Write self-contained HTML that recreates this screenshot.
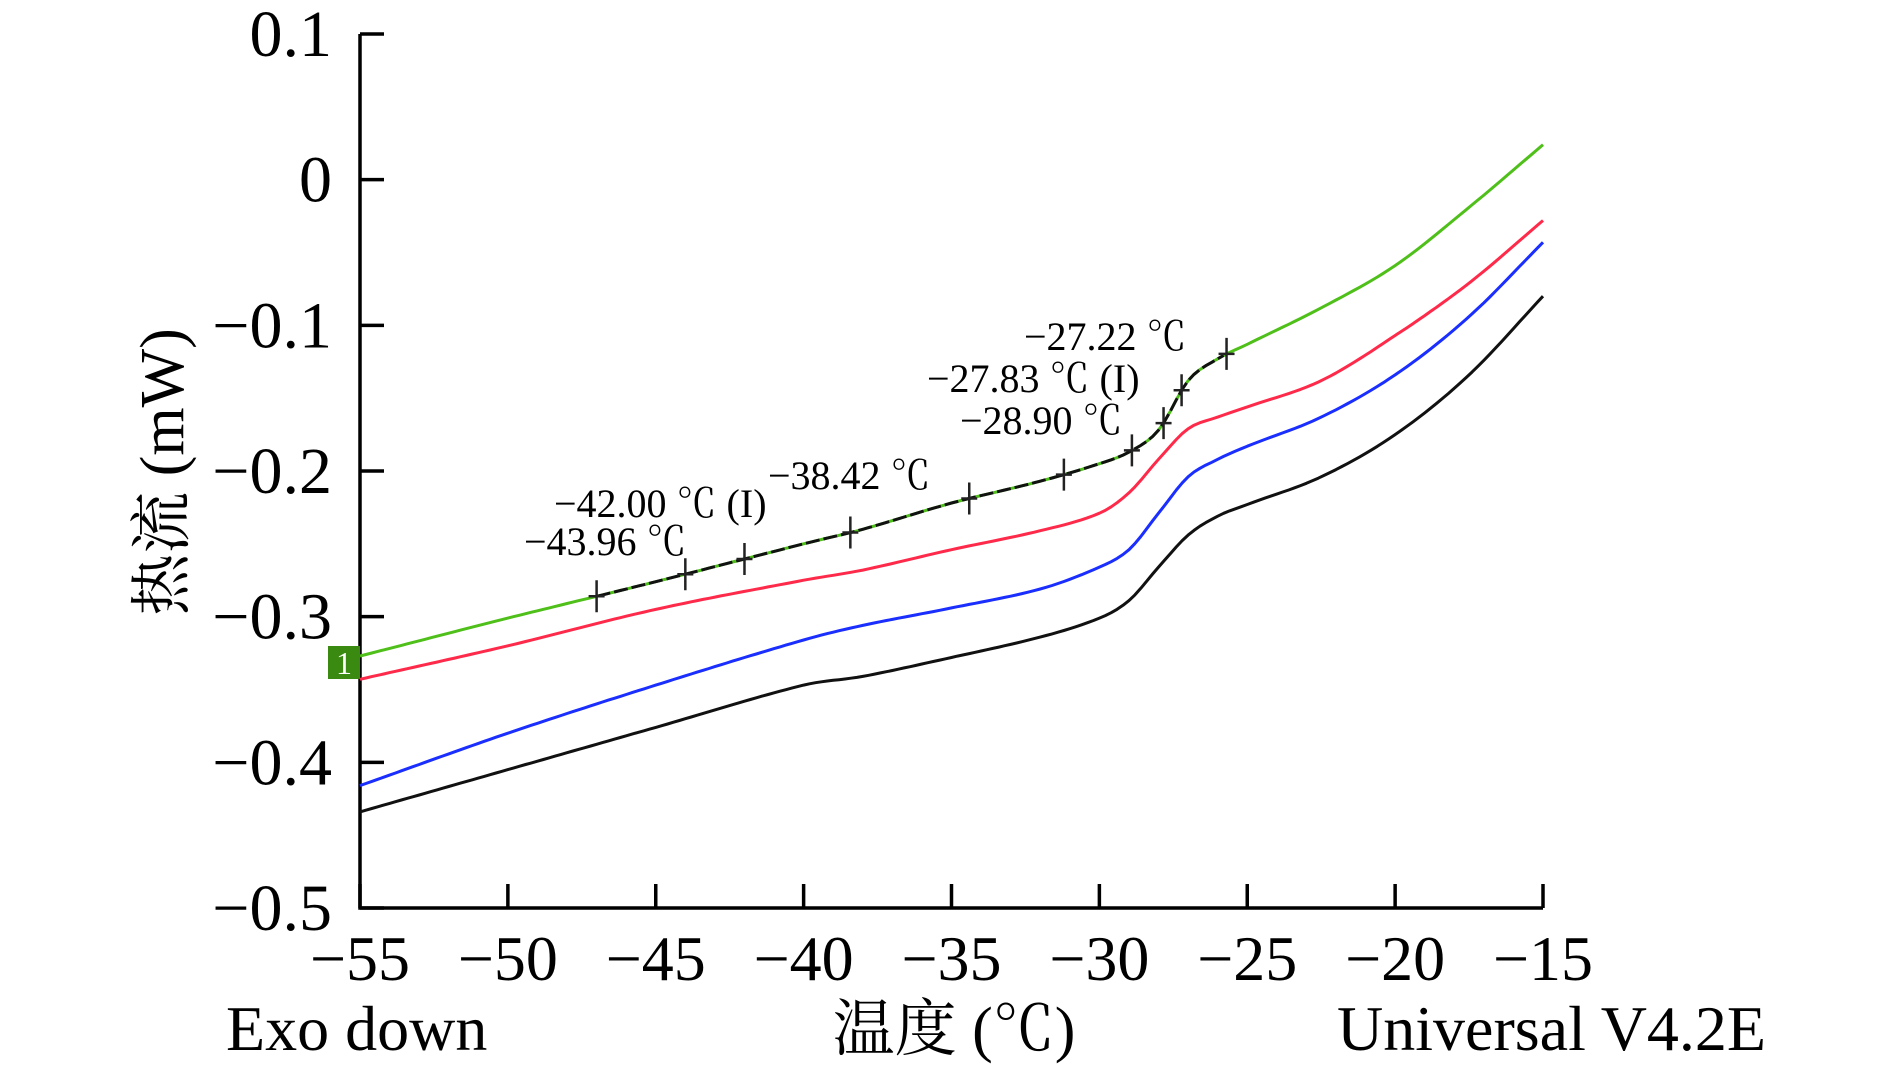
<!DOCTYPE html>
<html><head><meta charset="utf-8"><style>
html,body{margin:0;padding:0;background:#fff;}
svg{display:block;}
text{font-family:"Liberation Serif","Noto Serif CJK SC",serif;fill:#000;}
</style></head><body>
<svg id="chart" width="1890" height="1070" viewBox="0 0 1890 1070" xmlns="http://www.w3.org/2000/svg">
<g id="axes"></g><g id="series"></g><g id="annot"></g>
</svg>
<script>
const xTicks=[-55,-50,-45,-40,-35,-30,-25,-20,-15];
const yTicks=[0.1,0,-0.1,-0.2,-0.3,-0.4,-0.5];
const yTickLabels=["0.1","0","−0.1","−0.2","−0.3","−0.4","−0.5"];
const temps=[-55,-50,-45,-40,-38,-35,-32,-30,-29,-28,-27,-26,-25,-22.5,-20,-17.5,-15];
const greenVals=[-0.327,-0.301,-0.276,-0.250,-0.240,-0.222,-0.207,-0.195,-0.187,-0.172,-0.138,-0.123,-0.113,-0.088,-0.059,-0.019,0.024];
const redVals=[-0.343,-0.320,-0.295,-0.275,-0.268,-0.254,-0.241,-0.229,-0.215,-0.192,-0.171,-0.163,-0.156,-0.138,-0.107,-0.071,-0.028];
const blueVals=[-0.416,-0.380,-0.347,-0.316,-0.306,-0.294,-0.281,-0.266,-0.254,-0.229,-0.204,-0.192,-0.183,-0.163,-0.134,-0.094,-0.043];
const blackVals=[-0.434,-0.405,-0.376,-0.347,-0.341,-0.328,-0.314,-0.301,-0.289,-0.266,-0.244,-0.231,-0.223,-0.204,-0.175,-0.134,-0.080];
const markerTemps=[-47,-44,-42,-38.42,-34.4,-31.2,-28.9,-27.83,-27.22,-25.7];
const annotLabels=["−27.22 ℃","−27.83 ℃ (I)","−28.90 ℃","−38.42 ℃","−42.00 ℃ (I)","−43.96 ℃"];

const X0=360,X1=1543,Y0=34,Y1=908;
const sx=v=>X0+(v+55)/40*(X1-X0);
const sy=v=>Y0+(0.1-v)/0.6*(Y1-Y0);
const NS="http://www.w3.org/2000/svg";
function mk(tag,attrs,parent){const e=document.createElementNS(NS,tag);for(const k in attrs)e.setAttribute(k,attrs[k]);parent.appendChild(e);return e;}
const axes=document.getElementById('axes'),series=document.getElementById('series'),annot=document.getElementById('annot');
// Catmull-Rom interpolation in data space
function interp(vals,t){
 const n=temps.length;let i=0;
 while(i<n-2&&t>temps[i+1])i++;
 const t0=temps[i],t1=temps[i+1],f=(t-t0)/(t1-t0);
 const p0=vals[Math.max(i-1,0)],p1=vals[i],p2=vals[i+1],p3=vals[Math.min(i+2,n-1)];
 const q0=temps[Math.max(i-1,0)],q3=temps[Math.min(i+2,n-1)];
 const m1=(p2-p0)/(t1-q0)*(t1-t0),m2=(p3-p1)/(q3-t0)*(t1-t0);
 const f2=f*f,f3=f2*f;
 return (2*f3-3*f2+1)*p1+(f3-2*f2+f)*m1+(-2*f3+3*f2)*p2+(f3-f2)*m2;
}

let a=mk('path',{d:`M${X0},${Y0} V${Y1} H${X1}`,stroke:'#000','stroke-width':3.5,fill:'none'},axes);

yTicks.forEach((v,i)=>{
 const t=mk('line',{x1:X0,x2:X0+24,y1:sy(v),y2:sy(v),stroke:'#000','stroke-width':3.5},axes);
 
 const l=mk('text',{x:332,y:sy(v)+22,'text-anchor':'end','font-size':66},axes);
 l.textContent=yTickLabels[i];
 
});
xTicks.forEach(v=>{
 const t=mk('line',{x1:sx(v),x2:sx(v),y1:Y1,y2:Y1-24,stroke:'#000','stroke-width':3.5},axes);
 
 const l=mk('text',{x:sx(v),y:980,'text-anchor':'middle','font-size':64},axes);
 l.textContent=String(v).replace('-','−');
 
});
function txt(s,x,y,fs,anchor,name,extra){const e=mk('text',Object.assign({x:x,y:y,'font-size':fs,'text-anchor':anchor},extra||{}),axes);e.textContent=s;return e;}
txt('热流 (mW)',0,0,62,'middle','y-axis-title',{transform:'translate(183,472) rotate(-90)'});
txt('温度 (℃)',954,1050,62,'middle','x-axis-title');
txt('Exo down',226,1050,64,'start','exo-down-label');
txt('Universal V4.2E',1766,1050,64,'end','software-version-label');

function line(vals,color,name){
 const pts=[];for(let t=-55;t<=-15.001;t+=0.2)pts.push(sx(t).toFixed(1)+','+sy(interp(vals,t)).toFixed(1));
 pts.push(sx(-15).toFixed(1)+','+sy(vals[vals.length-1]).toFixed(1));
 const p=mk('polyline',{points:pts.join(' '),stroke:color,'stroke-width':3,fill:'none','stroke-linejoin':'round'},series);
 
}
line(blackVals,'#111','curve-black');
line(blueVals,'#1a2fff','curve-blue');
line(redVals,'#ff2a4a','curve-red');
line(greenVals,'#4fbf1a','curve-green');
let pts=[];for(let t=-47;t<=-25.7;t+=0.2)pts.push(sx(t).toFixed(1)+','+sy(interp(greenVals,t)).toFixed(1));
const ov=mk('polyline',{points:pts.join(' '),stroke:'#111','stroke-width':3,fill:'none','stroke-dasharray':'14 4'},series);

markerTemps.forEach(t=>{
 const x=sx(t),y=sy(interp(greenVals,t));
 const m=mk('path',{d:`M${x-8},${y} H${x+8} M${x},${y-16} V${y+16}`,stroke:'#222','stroke-width':2.5},annot);
 
});
const annotPos=[[1024,350],[927,392],[960,434],[768,489],[554,517],[524,555]];
annotLabels.forEach((s,i)=>{
 const e=mk('text',{x:annotPos[i][0],y:annotPos[i][1],'font-size':40},annot);
 e.textContent=s;
});
const box=mk('rect',{x:328,y:646,width:32,height:33,fill:'#3a8a12'},annot);

const bt=mk('text',{x:344,y:674,'font-size':32,'text-anchor':'middle',fill:'#fff'},annot);
bt.style.fill='#fff';bt.textContent='1';

</script>
</body></html>
